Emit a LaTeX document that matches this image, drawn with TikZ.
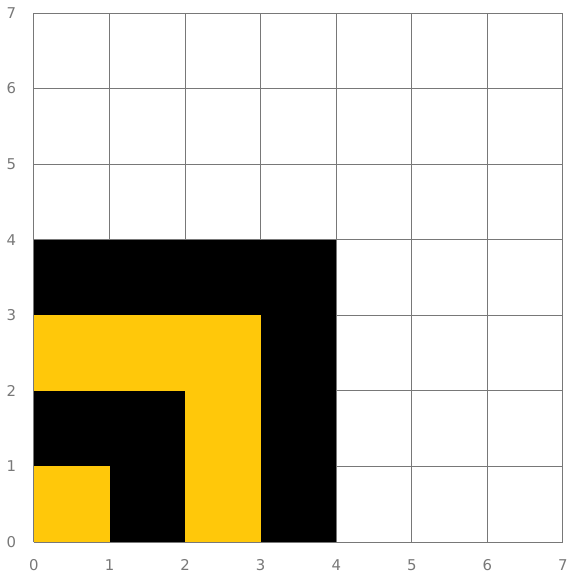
\documentclass[tikz,border=0pt]{standalone}
\usepackage{fontspec}
\setmainfont{DejaVu Sans}
\usepackage{tikz}
\usetikzlibrary{positioning}
\usepackage{xcolor}
\definecolor{tileyellow}{RGB}{255, 200, 10}
\definecolor{axisgray}{RGB}{120, 120, 120}

\begin{document}
\begin{tikzpicture}[x=1cm, y=1cm,
    ticklabel/.style={text=axisgray, font=\fontsize{5.6}{6}\selectfont, inner sep=0pt}]
        \useasboundingbox (-0.449,-0.41) rectangle (7.066,7.172);
        % background grid
        \draw[step=1cm, axisgray, line width=0.35pt] (0,0) grid (7,7);
        % black block
        \fill[black] (0,0) rectangle (4,4);
        % yellow L shape
        \fill[tileyellow] (2,0) rectangle (3,3);
        \fill[tileyellow] (0,2) rectangle (3,3);
        % yellow corner cell
        \fill[tileyellow] (0,0) rectangle (1,1);
        % axis labels
        \foreach \i in {0,...,7} {
            \node[ticklabel] (xl\i) at (\i,-0.30) {\i};
            \node[ticklabel] (yl\i) at (-0.30,\i) {\i};
        }
      \end{tikzpicture}
\end{document}
